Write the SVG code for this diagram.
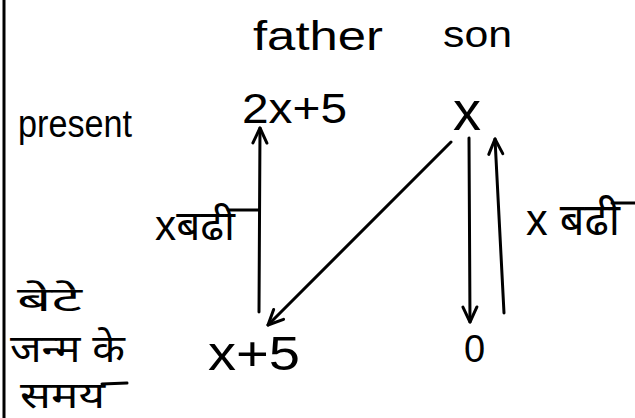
<svg xmlns="http://www.w3.org/2000/svg" width="635" height="418" viewBox="0 0 635 418">
  <style>
    .t { font-family: "Liberation Sans", "Noto Sans", "DejaVu Sans", sans-serif; fill: #000; }
    .ln { stroke: #000; stroke-width: 3; fill: none; stroke-linecap: round; }
  </style>
  <defs>
    <marker id="arr" viewBox="0 0 20 20" refX="18" refY="10" markerWidth="20" markerHeight="20" markerUnits="userSpaceOnUse" orient="auto">
      <path d="M3,3 L18,10 L3,17" fill="none" stroke="#000" stroke-width="3" stroke-linecap="round" stroke-linejoin="round"/>
    </marker>
  </defs>
  <rect width="635" height="418" fill="#fff"/>
  <line x1="4" y1="0" x2="4" y2="418" class="ln" stroke-linecap="butt"/>

  <g id="header-father"><text class="t" x="253" y="50" font-size="40" textLength="130" lengthAdjust="spacingAndGlyphs">father</text></g>
  <g id="header-son"><text class="t" x="443" y="47" font-size="36" textLength="69" lengthAdjust="spacingAndGlyphs">son</text></g>

  <g id="row-present"><text class="t" x="18" y="137" font-size="38" textLength="114" lengthAdjust="spacingAndGlyphs">present</text></g>
  <g id="row-birth">
    <text class="t" x="17" y="311" font-size="34" textLength="65" lengthAdjust="spacingAndGlyphs">बेटे</text>
    <text class="t" x="10" y="362" font-size="38" textLength="115" lengthAdjust="spacingAndGlyphs">जन्म के</text>
    <text class="t" x="20" y="408" font-size="36" textLength="85" lengthAdjust="spacingAndGlyphs">समय</text>
    <line x1="102" y1="384" x2="127" y2="383" class="ln" stroke-width="2"/>
  </g>

  <g id="father-present"><text class="t" x="242" y="123" font-size="42" textLength="105" lengthAdjust="spacingAndGlyphs">2x+5</text></g>
  <g id="son-present"><text class="t" x="453" y="130" font-size="56">x</text></g>
  <g id="father-birth"><text class="t" x="208" y="370" font-size="48" textLength="92" lengthAdjust="spacingAndGlyphs">x+5</text></g>
  <g id="son-birth"><text class="t" x="464" y="362" font-size="38">0</text></g>

  <g id="connectors">
    <line x1="259" y1="312" x2="260" y2="128" class="ln" marker-end="url(#arr)"/>
    <line x1="451" y1="142" x2="268" y2="325" class="ln" marker-end="url(#arr)"/>
    <line x1="469" y1="138" x2="470" y2="322" class="ln" marker-end="url(#arr)"/>
    <line x1="504" y1="313" x2="495" y2="139" class="ln" marker-end="url(#arr)"/>
    <line x1="228" y1="210" x2="259" y2="210" class="ln" stroke-width="2.5"/>
    <line x1="612" y1="203" x2="635" y2="203" class="ln" stroke-width="2.5" stroke-linecap="butt"/>
    <text class="t" x="155" y="240" font-size="42" textLength="80" lengthAdjust="spacingAndGlyphs">xबढी</text>
    <text class="t" x="526" y="235" font-size="44" textLength="94" lengthAdjust="spacingAndGlyphs">x बढी</text>
  </g>
</svg>
